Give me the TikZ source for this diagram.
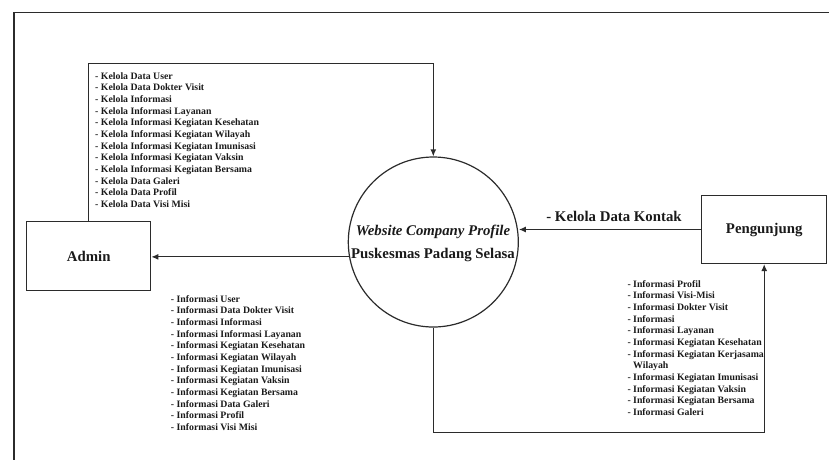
\documentclass[tikz,border=0pt]{standalone}
\usepackage{fontspec}
\setmainfont{Liberation Serif}
\usetikzlibrary{arrows.meta}
\definecolor{ink}{HTML}{1A1A1A}
\definecolor{linec}{HTML}{2B2B2B}
\begin{document}
\begin{tikzpicture}[x=1pt,y=-1pt,
  entity/.style={draw=linec, line width=1.2pt, rectangle, inner sep=0pt, fill=white,
    font=\fontsize{14.8}{17}\selectfont\bfseries, text=ink},
  proc/.style={draw=linec, line width=1.2pt, circle, inner sep=0pt, minimum size=170pt},
  flow/.style={draw=linec, line width=1.2pt, -{Latex[length=7pt,width=6pt]}},
  lst/.style={align=left, anchor=north west, inner sep=0pt,
    font=\fontsize{9.8}{11.67}\selectfont\bfseries, text=ink},
  biglabel/.style={inner sep=0pt, font=\fontsize{14.8}{17}\selectfont\bfseries, text=ink},
  outerframe/.style={draw=linec, line width=1.2pt}]
\useasboundingbox (0,0) rectangle (829,459);
\draw[outerframe] (14,470) -- (14,12.7) -- (840,12.7);

\node[entity, minimum width=124pt, minimum height=69pt] (admin) at (88.7,256.2) {Admin};
\node[entity, minimum width=125pt, minimum height=68pt] (peng) at (764.2,229.5) {Pengunjung};
\node[proc] (web) at (433.3,242) {};
\node[biglabel, align=center, font=\fontsize{14.8}{23.3}\selectfont\bfseries] (webtext) at (433,243.3)
  {\textit{Website Company Profile}\\Puskesmas Padang Selasa};

\node[biglabel] (kontak) at (614,216) {- Kelola Data Kontak};

\node[lst] (kelola) at (95,72) {- Kelola Data User\\- Kelola Data Dokter Visit\\- Kelola Informasi\\- Kelola Informasi Layanan\\- Kelola Informasi Kegiatan Kesehatan\\- Kelola Informasi Kegiatan Wilayah\\- Kelola Informasi Kegiatan Imunisasi\\- Kelola Informasi Kegiatan Vaksin\\- Kelola Informasi Kegiatan Bersama\\- Kelola Data Galeri\\- Kelola Data Profil\\- Kelola Data Visi Misi};

\node[lst] (infoadmin) at (170.7,295) {- Informasi User\\- Informasi Data Dokter Visit\\- Informasi Informasi\\- Informasi Informasi Layanan\\- Informasi Kegiatan Kesehatan\\- Informasi Kegiatan Wilayah\\- Informasi Kegiatan Imunisasi\\- Informasi Kegiatan Vaksin\\- Informasi Kegiatan Bersama\\- Informasi Data Galeri\\- Informasi Profil\\- Informasi Visi Misi};

\node[lst] (infopeng) at (627.3,280) {- Informasi Profil\\- Informasi Visi-Misi\\- Informasi Dokter Visit\\- Informasi\\- Informasi Layanan\\- Informasi Kegiatan Kesehatan\\- Informasi Kegiatan Kerjasama\\\hphantom{- }Wilayah\\- Informasi Kegiatan Imunisasi\\- Informasi Kegiatan Vaksin\\- Informasi Kegiatan Bersama\\- Informasi Galeri};

\coordinate (upy) at (0,63.3);
\coordinate (downy) at (0,432.7);
\draw[flow] (admin.north) |- (upy -| web.north) -- (web.north);
\draw[flow] (web.190) -- (web.190 -| admin.east);
\draw[flow] (peng.west) -- (peng.west -| web.east);
\draw[flow] (web.south) |- (downy -| peng.south) -- (peng.south);
\end{tikzpicture}
\end{document}
